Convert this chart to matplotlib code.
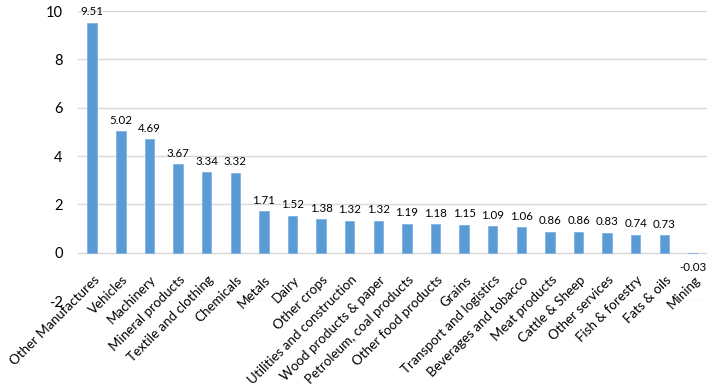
import matplotlib.pyplot as plt
import numpy as np

plt.rcParams['font.family'] = ['Lato', 'DejaVu Sans']

sectors = ["Other Manufactures", "Vehicles", "Machinery", "Mineral products",
           "Textile and clothing", "Chemicals", "Metals", "Dairy", "Other crops",
           "Utilities and construction", "Wood products & paper",
           "Petroleum, coal products", "Other food products", "Grains",
           "Transport and logistics", "Beverages and tobacco", "Meat products",
           "Cattle & Sheep", "Other services", "Fish & forestry", "Fats & oils",
           "Mining"]
values = [9.51, 5.02, 4.69, 3.67, 3.34, 3.32, 1.71, 1.52, 1.38, 1.32, 1.32,
          1.19, 1.18, 1.15, 1.09, 1.06, 0.86, 0.86, 0.83, 0.74, 0.73, -0.03]
yticks = [-2, 0, 2, 4, 6, 8, 10]

fig = plt.figure(figsize=(7.08, 3.85), dpi=100)
ax = fig.add_axes([0.110, 0.218, 0.889, 0.753])

x = np.arange(len(sectors))
ax.bar(x, values, width=0.33, color="#5B9BD5", edgecolor="#7FB2E0", linewidth=0.6, zorder=3)

ax.set_xlim(-0.5, len(sectors) - 0.5)
ax.set_ylim(-2, 10)
ax.set_yticks(yticks)
ax.set_yticklabels([str(t) for t in yticks], fontsize=10.5)
ax.tick_params(axis='y', length=0, pad=11)
ax.set_xticks([])
ax.grid(axis='y', color="#D9D9D9", linewidth=1.0, zorder=0)
for s in ax.spines.values():
    s.set_visible(False)

for i, v in enumerate(values):
    if v >= 0:
        ax.annotate(f"{v:.2f}", (i, v), xytext=(0, 4), textcoords="offset points",
                    ha="center", va="bottom", fontsize=8.3)
    else:
        ax.annotate(f"{v:.2f}", (i, v), xytext=(0, -6), textcoords="offset points",
                    ha="center", va="top", fontsize=8.3)

for i, name in enumerate(sectors):
    ax.annotate(name, (i, 0), xytext=(0.5, -15), textcoords="offset points",
                ha="right", va="top", rotation=45, rotation_mode="anchor",
                fontsize=9.6, zorder=5)

fig.savefig("out.png", dpi=100)
